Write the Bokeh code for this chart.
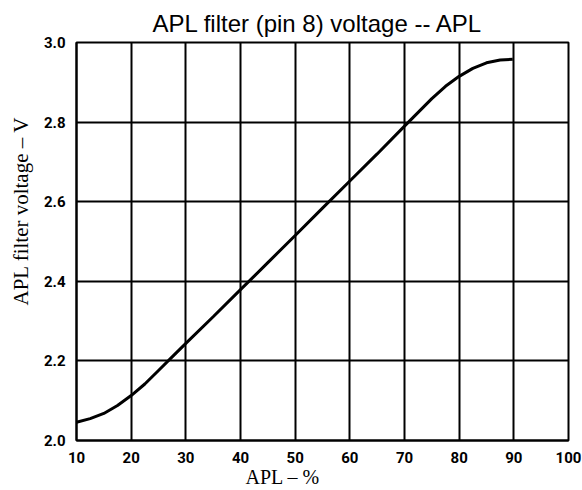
from bokeh.plotting import figure
from bokeh.models import Range1d, FixedTicker, Title
from bokeh.embed import file_html
from bokeh.resources import INLINE

# data
apl = [10, 12.5, 15, 17.5, 20, 22.5, 25, 27.5, 30, 35, 40, 45, 50, 55, 60, 65,
       70, 75, 77.5, 80, 82.5, 85, 87.5, 89.8]
volts = [2.046, 2.055, 2.068, 2.088, 2.113, 2.142, 2.176, 2.21, 2.244, 2.311,
         2.379, 2.447, 2.515, 2.584, 2.652, 2.72, 2.79, 2.859, 2.89, 2.915,
         2.935, 2.949, 2.956, 2.958]
x_ticks = [10, 20, 30, 40, 50, 60, 70, 80, 90, 100]
y_ticks = [2.0, 2.2, 2.4, 2.6, 2.8, 3.0]
title_text = "APL filter (pin 8) voltage -- APL"
x_label = "APL \u2013 %"
y_label = "APL filter voltage \u2013 V"

p = figure(width=582, height=490, output_backend="svg", toolbar_location=None,
           x_range=Range1d(10, 100), y_range=Range1d(2.0, 3.0),
           min_border_left=76, min_border_right=14, min_border_top=42, min_border_bottom=50)

p.title.text = title_text
p.title.text_font = "Liberation Sans"
p.title.text_font_size = "24px"
p.title.text_font_style = "normal"
p.title.text_color = "black"
p.title.align = "left"
p.title.offset = 76
p.title.standoff = 11

p.line(apl, volts, line_color="black", line_width=3)

p.xaxis.ticker = FixedTicker(ticks=x_ticks)
p.yaxis.ticker = FixedTicker(ticks=y_ticks)
p.xaxis.major_label_overrides = {t: str(t) for t in x_ticks}
p.yaxis.major_label_overrides = {t: f"{t:.1f}" for t in y_ticks}

for ax in (p.xaxis, p.yaxis):
    ax.major_tick_line_color = None
    ax.minor_tick_line_color = None
    ax.axis_line_color = "black"
    ax.axis_line_width = 2
    ax.major_label_text_font = "Roboto"
    ax.major_label_text_font_style = "bold"
    ax.major_label_text_font_size = "15px"
    ax.major_label_text_color = "black"

p.xaxis.major_label_standoff = 5
p.yaxis.major_label_standoff = 5

p.xgrid.ticker = FixedTicker(ticks=x_ticks)
p.ygrid.ticker = FixedTicker(ticks=y_ticks)
p.grid.grid_line_color = "black"
p.grid.grid_line_width = 2
p.grid.grid_line_alpha = 1.0

p.outline_line_color = "black"
p.outline_line_width = 2
p.outline_line_alpha = 1.0
p.background_fill_color = "white"
p.border_fill_color = "white"

# axis titles as panel titles so that they can be offset along the axis
ytitle = Title(text=y_label, align="left", offset=135, vertical_align="top", standoff=12,
               text_font="Liberation Serif", text_font_size="21px",
               text_font_style="normal", text_color="black")
p.add_layout(ytitle, "left")
xtitle = Title(text=x_label, align="left", offset=169, vertical_align="top", standoff=0,
               text_font="Liberation Serif", text_font_size="20px",
               text_font_style="normal", text_color="black")
p.add_layout(xtitle, "below")

open("out.html", "w").write(file_html(p, INLINE))
